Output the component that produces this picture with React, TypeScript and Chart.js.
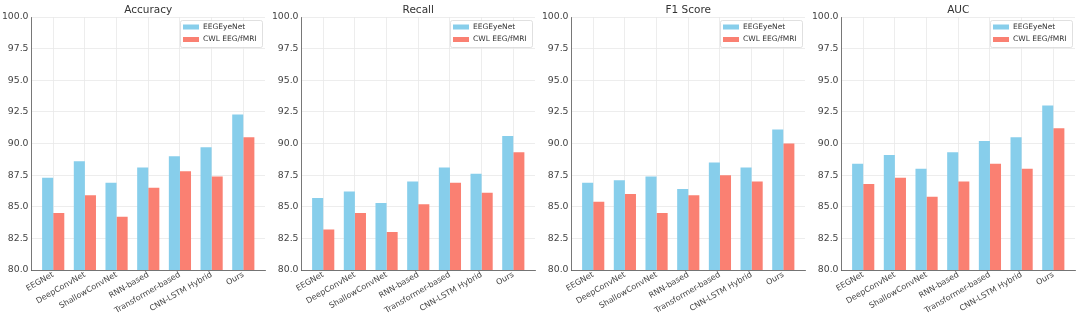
import React, { useEffect, useRef } from "react";
import { Chart, registerables } from "chart.js";

Chart.register(...registerables);

const categories = [
  "EEGNet",
  "DeepConvNet",
  "ShallowConvNet",
  "RNN-based",
  "Transformer-based",
  "CNN-LSTM Hybrid",
  "Ours",
];
const seriesNames = ["EEGEyeNet", "CWL EEG/fMRI"];

const accuracyEEGEyeNet = [87.3, 88.6, 86.9, 88.1, 89.0, 89.7, 92.3];
const accuracyCWL = [84.5, 85.9, 84.2, 86.5, 87.8, 87.4, 90.5];
const recallEEGEyeNet = [85.7, 86.2, 85.3, 87.0, 88.1, 87.6, 90.6];
const recallCWL = [83.2, 84.5, 83.0, 85.2, 86.9, 86.1, 89.3];
const f1EEGEyeNet = [86.9, 87.1, 87.4, 86.4, 88.5, 88.1, 91.1];
const f1CWL = [85.4, 86.0, 84.5, 85.9, 87.5, 87.0, 90.0];
const aucEEGEyeNet = [88.4, 89.1, 88.0, 89.3, 90.2, 90.5, 93.0];
const aucCWL = [86.8, 87.3, 85.8, 87.0, 88.4, 88.0, 91.2];

const titles = ["Accuracy", "Recall", "F1 Score", "AUC"];
const yMin = 80;
const yMax = 100;
const yStep = 2.5;

const COLORS = ["#87CEEB", "#FA8072"];
const FONT = "'DejaVu Sans', sans-serif";

const titlePlugin = (title: string) => ({
  id: "customTitle",
  afterDraw(chart: any) {
    const { ctx, chartArea } = chart;
    ctx.save();
    ctx.font = `10.5px ${FONT}`;
    ctx.fillStyle = "#333";
    ctx.textAlign = "center";
    ctx.textBaseline = "middle";
    ctx.fillText(title, (chartArea.left + chartArea.right) / 2, 10);
    ctx.restore();
  },
});

const legendPlugin = {
  id: "customLegend",
  afterDraw(chart: any) {
    const { ctx, chartArea } = chart;
    const w = 82;
    const h = 27;
    const x = chartArea.right - 3 - w;
    const y = chartArea.top + 3;
    ctx.save();
    ctx.fillStyle = "rgba(255,255,255,0.85)";
    ctx.strokeStyle = "#d8d8d8";
    ctx.lineWidth = 0.8;
    ctx.beginPath();
    ctx.roundRect(x + 0.5, y + 0.5, w, h, 2);
    ctx.fill();
    ctx.stroke();
    ctx.font = `7.5px ${FONT}`;
    ctx.textBaseline = "middle";
    ctx.textAlign = "left";
    chart.data.datasets.forEach((ds: any, i: number) => {
      const cy = y + 7 + i * 12.5;
      ctx.fillStyle = ds.backgroundColor;
      ctx.fillRect(x + 3, cy - 2.5, 16, 5);
      ctx.fillStyle = "#333";
      ctx.fillText(ds.label, x + 23, cy);
    });
    ctx.restore();
  },
};

function Panel({ title, a, b, left }: { title: string; a: number[]; b: number[]; left: number }) {
  const ref = useRef<HTMLCanvasElement>(null);
  useEffect(() => {
    const chart = new Chart(ref.current!, {
      type: "bar",
      data: {
        datasets: [
          {
            label: seriesNames[0],
            data: a.map((y, i) => ({ x: i, y })),
            backgroundColor: COLORS[0],
            categoryPercentage: 0.7,
            barPercentage: 1.0,
          },
          {
            label: seriesNames[1],
            data: b.map((y, i) => ({ x: i, y })),
            backgroundColor: COLORS[1],
            categoryPercentage: 0.7,
            barPercentage: 1.0,
          },
        ],
      } as any,
      options: {
        responsive: false,
        animation: false,
        layout: { padding: { top: 17, right: 5, left: 0, bottom: 0 } },
        plugins: {
          legend: { display: false },
          title: { display: false },
          tooltip: { enabled: false },
        },
        scales: {
          x: {
            type: "linear",
            min: -0.685,
            max: 6.685,
            offset: false,
            grid: { offset: false, color: "#e9e9e9", lineWidth: 0.8, drawTicks: false },
            border: { display: true, color: "#555", width: 0.8 },
            ticks: {
              stepSize: 1,
              includeBounds: false,
              autoSkip: false,
              maxRotation: 30,
              minRotation: 30,
              padding: 0,
              color: "#444",
              font: { family: FONT, size: 8 },
              callback: (v: any) => (Number.isInteger(v) ? categories[v] ?? "" : ""),
            },
            afterFit: (s: any) => {
              s.height = 48;
            },
          },
          y: {
            min: yMin,
            max: yMax,
            grid: { color: "#e9e9e9", lineWidth: 0.8, drawTicks: false },
            border: { display: true, color: "#555", width: 0.8 },
            ticks: {
              stepSize: yStep,
              padding: 3,
              color: "#444",
              font: { family: FONT, size: 9.3 },
              callback: (v: any) => Number(v).toFixed(1),
            },
            afterFit: (s: any) => {
              s.width = 31.5;
            },
          },
        },
      } as any,
      plugins: [titlePlugin(title), legendPlugin],
    });
    return () => chart.destroy();
  }, []);
  return (
    <div style={{ position: "absolute", left, top: 0, width: 270, height: 318 }}>
      <canvas ref={ref} width={270} height={318} style={{ display: "block", width: 270, height: 318 }} />
    </div>
  );
}

export default function App() {
  const seriesA = [accuracyEEGEyeNet, recallEEGEyeNet, f1EEGEyeNet, aucEEGEyeNet];
  const seriesB = [accuracyCWL, recallCWL, f1CWL, aucCWL];
  return (
    <div style={{ position: "fixed", left: 0, top: 0, width: 1080, height: 318, background: "#fff" }}>
      {titles.map((t, i) => (
        <Panel key={t} title={t} a={seriesA[i]} b={seriesB[i]} left={i * 270} />
      ))}
    </div>
  );
}
